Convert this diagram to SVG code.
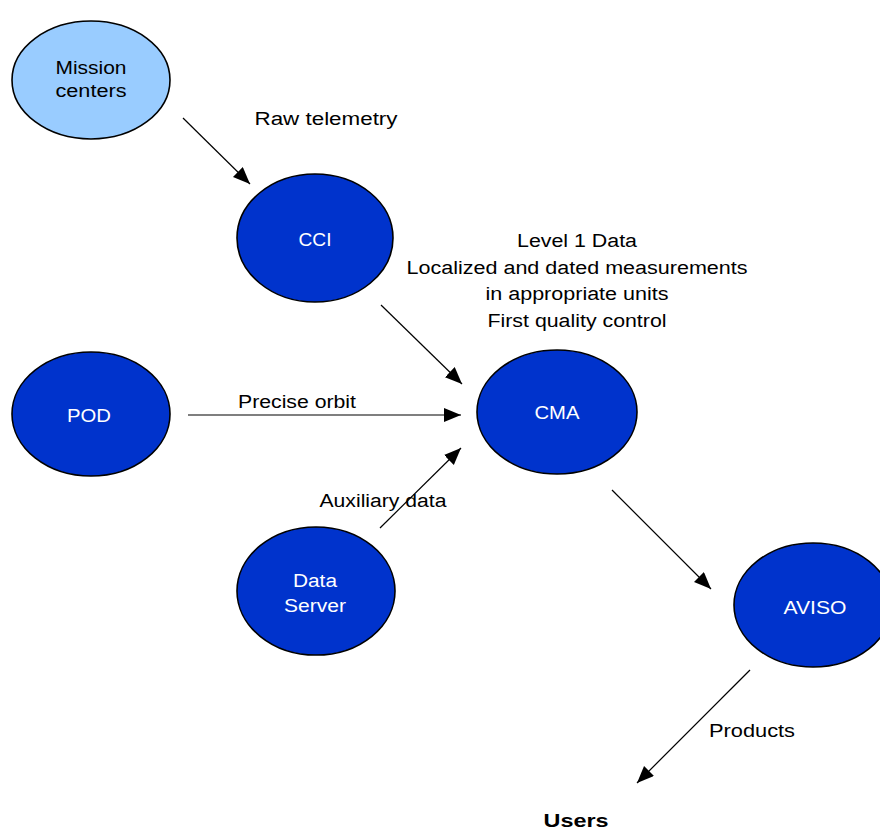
<svg xmlns="http://www.w3.org/2000/svg" width="880" height="830" viewBox="0 0 880 830">
  <style>
    .node { stroke: #000; stroke-width: 1.6; }
    .light { fill: #99CCFF; }
    .dark { fill: #0033CC; }
    .lbl { font-family: "Liberation Sans", Arial, sans-serif; font-size: 18px; text-anchor: middle; }
    .white { fill: #fff; }
    .black { fill: #000; }
    .edge { stroke: #000; stroke-width: 1.2; fill: none; marker-end: url(#arrow); }
  </style>
  <defs>
    <marker id="arrow" markerUnits="userSpaceOnUse" markerWidth="18" markerHeight="16" refX="17" refY="7" orient="auto">
      <path d="M0,0 L17,7 L0,14 Z" fill="#000"/>
    </marker>
  </defs>
  <rect width="880" height="830" fill="#fff"/>

  <g id="connectors">
    <line class="edge" x1="183" y1="118" x2="250" y2="184"/>
    <line class="edge" x1="381" y1="305" x2="462" y2="384"/>
    <line class="edge" x1="188" y1="415" x2="461" y2="415"/>
    <line class="edge" x1="380" y1="528" x2="461" y2="448"/>
    <line class="edge" x1="612" y1="490" x2="711" y2="589"/>
    <line class="edge" x1="750" y1="670" x2="637" y2="783"/>
  </g>

  <g id="edge-labels" class="lbl black">
    <text x="326" y="125" textLength="143" lengthAdjust="spacingAndGlyphs">Raw telemetry</text>
    <text x="577" y="247" textLength="120" lengthAdjust="spacingAndGlyphs">Level 1 Data</text>
    <text x="577" y="274" textLength="341" lengthAdjust="spacingAndGlyphs">Localized and dated measurements</text>
    <text x="577" y="300" textLength="183" lengthAdjust="spacingAndGlyphs">in appropriate units</text>
    <text x="577" y="327" textLength="179" lengthAdjust="spacingAndGlyphs">First quality control</text>
    <text x="297" y="408" textLength="118" lengthAdjust="spacingAndGlyphs">Precise orbit</text>
    <text x="383" y="507" textLength="127" lengthAdjust="spacingAndGlyphs">Auxiliary data</text>
    <text x="752" y="737" textLength="86" lengthAdjust="spacingAndGlyphs">Products</text>
  </g>

  <g id="mission-centers">
    <ellipse class="node light" cx="91" cy="80" rx="79" ry="59"/>
    <text class="lbl black" x="91" y="74" textLength="71" lengthAdjust="spacingAndGlyphs">Mission</text>
    <text class="lbl black" x="91" y="97" textLength="71" lengthAdjust="spacingAndGlyphs">centers</text>
  </g>

  <g id="cci">
    <ellipse class="node dark" cx="315" cy="238" rx="78" ry="64"/>
    <text class="lbl white" x="315" y="246" textLength="33" lengthAdjust="spacingAndGlyphs">CCI</text>
  </g>

  <g id="pod">
    <ellipse class="node dark" cx="91" cy="414" rx="79" ry="62"/>
    <text class="lbl white" x="89" y="422" textLength="44" lengthAdjust="spacingAndGlyphs">POD</text>
  </g>

  <g id="cma">
    <ellipse class="node dark" cx="557" cy="412" rx="80" ry="62"/>
    <text class="lbl white" x="557" y="419" textLength="45" lengthAdjust="spacingAndGlyphs">CMA</text>
  </g>

  <g id="data-server">
    <ellipse class="node dark" cx="316" cy="591" rx="79" ry="64"/>
    <text class="lbl white" x="315" y="587" textLength="44" lengthAdjust="spacingAndGlyphs">Data</text>
    <text class="lbl white" x="315" y="612" textLength="62" lengthAdjust="spacingAndGlyphs">Server</text>
  </g>

  <g id="aviso">
    <ellipse class="node dark" cx="813" cy="605" rx="79" ry="62"/>
    <text class="lbl white" x="815" y="614" textLength="63" lengthAdjust="spacingAndGlyphs">AVISO</text>
  </g>

  <g id="users">
    <text class="lbl black" x="576" y="827" font-weight="bold" textLength="65" lengthAdjust="spacingAndGlyphs">Users</text>
  </g>
</svg>
